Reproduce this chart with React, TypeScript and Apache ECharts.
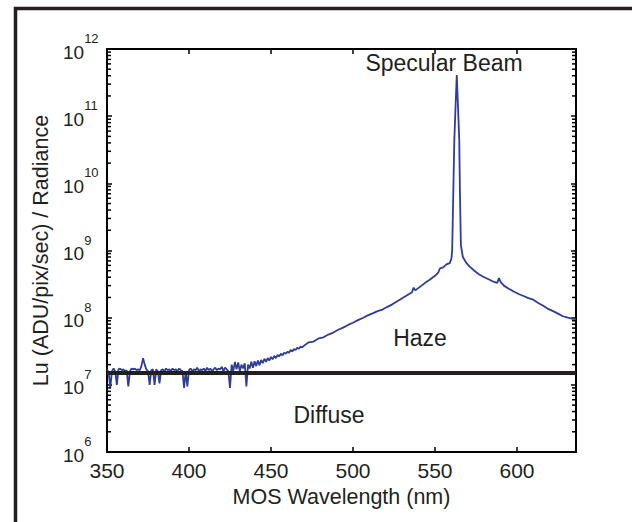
import React, { useEffect, useRef } from "react";
import * as echarts from "echarts";

const wavelength = [
  350, 351, 352, 353, 354, 355, 356, 357, 358, 359, 360, 361, 362, 363, 364, 365, 366, 367, 368, 369,
  370, 371, 372, 373, 374, 375, 376, 377, 378, 379, 380, 381, 382, 383, 384, 385, 386, 387, 388, 389,
  390, 391, 392, 393, 394, 395, 396, 397, 398, 399, 400, 401, 402, 403, 404, 405, 406, 407, 408, 409,
  410, 411, 412, 413, 414, 415, 416, 417, 418, 419, 420, 421, 422, 423, 424, 425, 426, 427, 428, 429,
  430, 431, 432, 433, 434, 435, 436, 437, 438, 439, 440, 441, 442, 443, 444, 445, 446, 447, 448, 449,
  450, 451, 452, 453, 454, 455, 456, 457, 458, 459, 460, 461, 462, 463, 464, 465, 466, 467, 468, 469,
  470, 473, 476, 479, 482, 485, 488, 491, 494, 497, 500, 503, 506, 509, 512, 515, 518, 521, 524, 527,
  530, 533, 536, 537, 538, 541, 544, 547, 550, 552, 553, 555, 557, 559, 560, 560.5, 561.2, 561.8, 562.6, 563.3,
  564.0, 564.8, 565.2, 565.8, 567, 569, 571, 574, 577, 580, 583, 586, 588, 589, 590, 592, 595, 598,
  601, 604, 607, 610, 613, 616, 619, 622, 625, 628, 631, 634, 636,
];
const luValue = [
  1.7e7, 1.55e7, 9e6, 1.6e7, 1.75e7, 1.6e7, 1.0e7, 1.7e7, 1.75e7, 1.65e7, 1.7e7, 1.6e7, 1.65e7, 9.5e6, 1.6e7, 1.75e7, 1.7e7, 1.75e7, 1.65e7, 1.7e7,
  1.65e7, 1.9e7, 2.5e7, 2.0e7, 1.7e7, 1.6e7, 1.0e7, 1.65e7, 1.7e7, 1.0e7, 1.7e7, 1.6e7, 1.05e7, 1.65e7, 1.7e7, 1.6e7, 1.75e7, 1.65e7, 1.7e7, 1.6e7,
  1.75e7, 1.65e7, 1.7e7, 1.6e7, 1.75e7, 1.65e7, 1.6e7, 9e6, 1.6e7, 9.5e6, 1.65e7, 1.75e7, 1.6e7, 1.7e7, 1.65e7, 1.8e7, 1.6e7, 1.7e7, 1.65e7, 1.75e7,
  1.6e7, 1.8e7, 1.65e7, 1.75e7, 1.6e7, 1.7e7, 1.8e7, 1.65e7, 1.75e7, 1.7e7, 1.85e7, 1.6e7, 1.8e7, 1.7e7, 1.6e7, 9e6, 2.0e7, 1.6e7, 2.2e7, 1.7e7,
  2.15e7, 1.6e7, 2.0e7, 1.75e7, 2.1e7, 9.5e6, 2.0e7, 1.75e7, 2.2e7, 1.8e7, 2.25e7, 1.9e7, 2.3e7, 1.95e7, 2.35e7, 2.1e7, 2.45e7, 2.2e7, 2.5e7, 2.3e7,
  2.6e7, 2.4e7, 2.7e7, 2.5e7, 2.8e7, 2.65e7, 2.9e7, 2.75e7, 3.0e7, 2.9e7, 3.1e7, 3.0e7, 3.3e7, 3.15e7, 3.4e7, 3.3e7, 3.55e7, 3.45e7, 3.7e7, 3.6e7,
  3.8e7, 4.3e7, 4.4e7, 4.9e7, 5.1e7, 5.6e7, 6.0e7, 6.6e7, 7.1e7, 7.8e7, 8.4e7, 9.2e7, 9.9e7, 1.08e8, 1.16e8, 1.25e8, 1.32e8, 1.45e8, 1.58e8, 1.75e8,
  1.95e8, 2.15e8, 2.4e8, 2.8e8, 2.55e8, 2.9e8, 3.3e8, 3.7e8, 4.2e8, 4.7e8, 5.4e8, 5.6e8, 6.2e8, 6.5e8, 7.5e8, 1.0e9, 8e9, 4.4e10, 1.5e11, 4.1e11,
  1.5e11, 4.4e10, 8e9, 1.2e9, 8.0e8, 6.6e8, 5.8e8, 5.0e8, 4.4e8, 4.0e8, 3.7e8, 3.4e8, 3.3e8, 3.9e8, 3.4e8, 3.0e8, 2.7e8, 2.45e8,
  2.25e8, 2.1e8, 1.95e8, 1.85e8, 1.65e8, 1.5e8, 1.35e8, 1.25e8, 1.15e8, 1.05e8, 1.0e8, 9.6e7, 9.5e7,
];

// Horizontal "diffuse" level line
const diffuseX = [350, 636];
const diffuseLevel = 1.5e7;

// Axis settings
const xMin = 350;
const xMax = 636;
const xInterval = 50;
const yMin = 1e6;
const yMax = 1e12;
const decadeExponents = [6, 7, 8, 9, 10, 11];
const minorMultipliers = [2, 3, 4, 5, 6, 7, 8, 9];

const annotations = [
  { text: "Specular Beam", x: 444, y: 63 },
  { text: "Haze", x: 420, y: 338 },
  { text: "Diffuse", x: 329, y: 415 },
];

const FONT = "'Liberation Sans', Arial, Helvetica, sans-serif";
const INK = "#231f20";
const BLUE = "#2e3d95";

export default function App() {
  const ref = useRef<HTMLDivElement>(null);

  useEffect(() => {
    if (!ref.current) return;
    const chart = echarts.init(ref.current, undefined, { renderer: "svg" });

    const minorTicks: number[][] = [];
    decadeExponents.forEach((e) => {
      minorMultipliers.forEach((m) => minorTicks.push([xMin, m * Math.pow(10, e)]));
    });

    const axisLineStyle = { color: "#000", width: 2 };

    chart.setOption({
      animation: false,
      backgroundColor: "#fff",
      textStyle: { fontFamily: FONT },
      grid: { left: 107, top: 49, right: 56, bottom: 70, containLabel: false },
      xAxis: [
        {
          type: "value",
          min: xMin,
          max: xMax,
          interval: xInterval,
          position: "bottom",
          name: "MOS Wavelength (nm)",
          nameLocation: "middle",
          nameGap: 30,
          nameTextStyle: { fontSize: 21.5, color: INK, fontFamily: FONT },
          axisLine: { show: true, lineStyle: axisLineStyle },
          axisTick: { show: true, inside: true, length: 5, lineStyle: { color: "#000", width: 1.5 } },
          axisLabel: {
            show: true,
            fontSize: 21,
            color: INK,
            fontFamily: FONT,
            margin: 8,
            showMaxLabel: false,
            formatter: (v: number) => (v % 50 === 0 ? String(v) : ""),
          },
          splitLine: { show: false },
        },
        {
          type: "value",
          min: xMin,
          max: xMax,
          interval: xInterval,
          position: "top",
          axisLine: { show: true, lineStyle: axisLineStyle },
          axisTick: { show: true, inside: true, length: 5, lineStyle: { color: "#000", width: 1.5 } },
          axisLabel: { show: false },
          splitLine: { show: false },
        },
      ],
      yAxis: [
        {
          type: "log",
          logBase: 10,
          min: yMin,
          max: yMax,
          splitNumber: 6,
          position: "left",
          name: "Lu (ADU/pix/sec) / Radiance",
          nameLocation: "middle",
          nameRotate: 90,
          nameGap: 51,
          nameTextStyle: { fontSize: 21.5, color: INK, fontFamily: FONT },
          axisLine: { show: true, lineStyle: axisLineStyle },
          axisTick: { show: true, inside: true, length: 5, lineStyle: { color: "#000", width: 1.5 } },
          axisLabel: {
            show: true,
            align: "left",
            margin: 44,
            formatter: (v: number) => `{b|10}{s|${Math.round(Math.log10(v))}}`,
            rich: {
              b: { fontSize: 19, color: INK, fontFamily: FONT, lineHeight: 34, padding: [6, 0, 0, 0] },
              s: { fontSize: 13, color: INK, fontFamily: FONT, lineHeight: 14, verticalAlign: "top" },
            },
          },
          splitLine: { show: false },
        },
        {
          type: "log",
          logBase: 10,
          min: yMin,
          max: yMax,
          splitNumber: 6,
          position: "right",
          axisLine: { show: true, lineStyle: axisLineStyle },
          axisTick: { show: true, inside: true, length: 5, lineStyle: { color: "#000", width: 1.5 } },
          axisLabel: { show: false },
          splitLine: { show: false },
        },
      ],
      graphic: [
        {
          type: "rect",
          shape: { x: 15.5, y: 8.5, width: 700, height: 600 },
          style: { fill: "none", stroke: INK, lineWidth: 3.5 },
          silent: true,
          z: 100,
        },
        ...annotations.map((a) => ({
          type: "text",
          x: a.x,
          y: a.y,
          style: {
            text: a.text,
            fill: INK,
            font: `23px ${FONT}`,
            textAlign: "center",
            textVerticalAlign: "middle",
          },
          z: 100,
        })),
      ],
      series: [
        {
          name: "Lu",
          type: "line",
          xAxisIndex: 0,
          yAxisIndex: 0,
          data: wavelength.map((w, i) => [w, luValue[i]]),
          showSymbol: false,
          symbol: "none",
          lineStyle: { color: BLUE, width: 1.8 },
          z: 3,
        },
        {
          name: "Diffuse level",
          type: "line",
          xAxisIndex: 0,
          yAxisIndex: 0,
          data: diffuseX.map((x) => [x, diffuseLevel]),
          showSymbol: false,
          symbol: "none",
          lineStyle: { color: INK, width: 4 },
          z: 4,
        },
        {
          name: "minor ticks",
          type: "custom",
          xAxisIndex: 0,
          yAxisIndex: 0,
          data: minorTicks,
          silent: true,
          clip: false,
          z: 5,
          renderItem: (params: any, api: any) => {
            const v = api.value(1);
            const pL = api.coord([xMin, v]);
            const pR = api.coord([xMax, v]);
            return {
              type: "group",
              children: [
                { type: "line", shape: { x1: pL[0], y1: pL[1], x2: pL[0] + 4, y2: pL[1] }, style: { stroke: "#000", lineWidth: 1.5 } },
                { type: "line", shape: { x1: pR[0] - 4, y1: pR[1], x2: pR[0], y2: pR[1] }, style: { stroke: "#000", lineWidth: 1.5 } },
              ],
            };
          },
        },
      ],
    });

    return () => chart.dispose();
  }, []);

  return (
    <div
      ref={ref}
      style={{ position: "fixed", left: 0, top: 0, width: 632, height: 522, background: "#fff" }}
    />
  );
}
